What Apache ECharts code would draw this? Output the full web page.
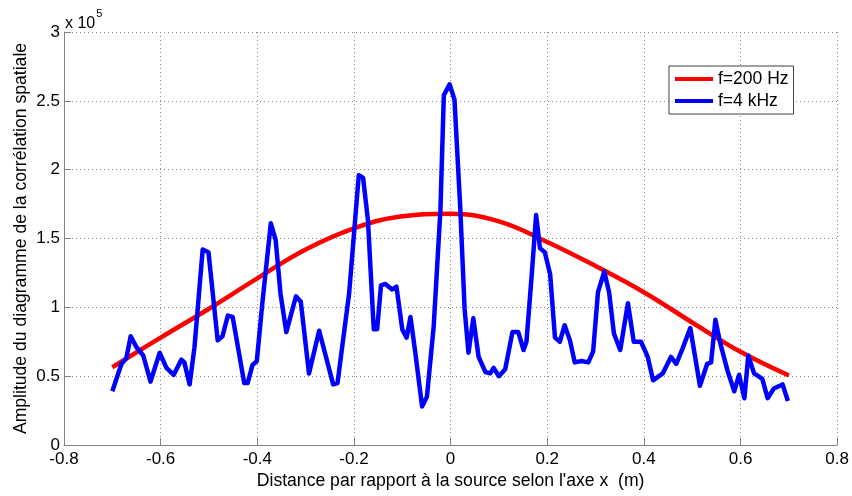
<!DOCTYPE html>
<html>
<head>
<meta charset="utf-8">
<script src="https://cdn.jsdelivr.net/npm/echarts@6/dist/echarts.min.js"></script>
<style>
html,body{margin:0;padding:0;background:#fff;}
#chart{width:852px;height:496px;}
</style>
</head>
<body>
<div id="chart"></div>
<script>
// ---- data ----
const xTicks = [-0.8, -0.6, -0.4, -0.2, 0, 0.2, 0.4, 0.6, 0.8];
const yTicks = [0, 0.5, 1, 1.5, 2, 2.5, 3];
const seriesNames = ['f=200 Hz', 'f=4 kHz'];

const redX = [-0.7, -0.6, -0.5, -0.4, -0.3, -0.2, -0.1, 0, 0.1, 0.2, 0.3, 0.4, 0.5, 0.6, 0.7];
const redY = [0.565, 0.78, 0.99, 1.21, 1.42, 1.574, 1.662, 1.68, 1.625, 1.475, 1.30, 1.11, 0.89, 0.677, 0.505];

const blueX = [-0.700, -0.681, -0.671, -0.662, -0.650, -0.636, -0.621, -0.602, -0.588, -0.573,
  -0.557, -0.551, -0.540, -0.530, -0.513, -0.501, -0.482, -0.472, -0.461, -0.451,
  -0.427, -0.420, -0.410, -0.401, -0.389, -0.372, -0.362, -0.352, -0.340, -0.320,
  -0.310, -0.293, -0.272, -0.243, -0.234, -0.210, -0.190, -0.181, -0.171, -0.159,
  -0.152, -0.144, -0.135, -0.121, -0.112, -0.100, -0.091, -0.083, -0.073, -0.059,
  -0.049, -0.035, -0.021, -0.014, -0.002, 0.008, 0.020, 0.029, 0.037, 0.047,
  0.058, 0.072, 0.082, 0.089, 0.100, 0.113, 0.128, 0.140, 0.151, 0.157,
  0.168, 0.177, 0.185, 0.195, 0.206, 0.216, 0.226, 0.236, 0.247, 0.257,
  0.271, 0.285, 0.295, 0.305, 0.318, 0.328, 0.338, 0.351, 0.367, 0.379,
  0.394, 0.408, 0.419, 0.439, 0.456, 0.467, 0.480, 0.496, 0.516, 0.531,
  0.539, 0.548, 0.558, 0.573, 0.587, 0.597, 0.608, 0.616, 0.628, 0.645,
  0.656, 0.669, 0.687, 0.698];
const blueY = [0.39, 0.59, 0.63, 0.79, 0.71, 0.65, 0.46, 0.67, 0.56, 0.51,
  0.62, 0.60, 0.44, 0.71, 1.42, 1.40, 0.76, 0.79, 0.94, 0.93,
  0.45, 0.45, 0.58, 0.61, 1.05, 1.61, 1.49, 1.10, 0.82, 1.08,
  1.04, 0.52, 0.83, 0.44, 0.45, 1.10, 1.96, 1.94, 1.63, 0.84,
  0.84, 1.16, 1.17, 1.13, 1.15, 0.84, 0.78, 0.93, 0.67, 0.28,
  0.35, 0.86, 1.71, 2.54, 2.62, 2.51, 1.72, 0.99, 0.67, 0.92,
  0.64, 0.53, 0.52, 0.56, 0.50, 0.55, 0.82, 0.82, 0.69, 0.75,
  1.24, 1.67, 1.43, 1.40, 1.24, 0.78, 0.75, 0.87, 0.76, 0.60,
  0.61, 0.60, 0.68, 1.11, 1.26, 1.11, 0.81, 0.69, 1.03, 0.75,
  0.75, 0.64, 0.47, 0.52, 0.64, 0.59, 0.70, 0.85, 0.43, 0.59,
  0.60, 0.91, 0.74, 0.54, 0.39, 0.51, 0.34, 0.65, 0.52, 0.48,
  0.34, 0.41, 0.44, 0.32];

const xAxisTitle = "Distance par rapport à la source selon l'axe x  (m)";
const yAxisTitle = "Amplitude du diagramme de la corrélation spatiale";

// ---- chart ----
const zip = (xs, ys) => xs.map((x, i) => [x, ys[i]]);
const fmt = v => String(Math.round(v * 10) / 10);
const FONT = '"Liberation Sans", Arial, Helvetica, sans-serif';
const chart = echarts.init(document.getElementById('chart'), null, {renderer: 'canvas'});

const axisCommon = {
  axisLine: {show: true, onZero: false, lineStyle: {color: '#808080', width: 1}},
  axisTick: {show: true, inside: true, length: 7, lineStyle: {color: '#808080'}},
  splitLine: {show: true, lineStyle: {color: '#8a8a8a', type: [1, 3], width: 1}},
  nameTextStyle: {color: '#000', fontFamily: FONT, fontSize: 17.6},
  nameMoveOverlap: false
};

chart.setOption({
  animation: false,
  backgroundColor: '#fff',
  grid: {left: 64, right: 13, top: 32, bottom: 51, containLabel: false},
  xAxis: Object.assign({}, axisCommon, {
    type: 'value',
    min: xTicks[0], max: xTicks[xTicks.length - 1],
    interval: 0.2,
    axisLabel: {color: '#000', fontFamily: FONT, fontSize: 17, margin: 6,
      showMinLabel: true, showMaxLabel: true, formatter: fmt},
    name: xAxisTitle, nameLocation: 'middle', nameGap: 27
  }),
  yAxis: Object.assign({}, axisCommon, {
    type: 'value',
    min: yTicks[0], max: yTicks[yTicks.length - 1],
    interval: 0.5,
    axisLabel: {color: '#000', fontFamily: FONT, fontSize: 17, margin: 4, formatter: fmt},
    name: yAxisTitle, nameLocation: 'middle', nameGap: 34, nameRotate: 90
  }),
  legend: {
    orient: 'vertical',
    left: 669, top: 66,
    padding: [4, 5, 4, 6],
    itemGap: 4,
    itemWidth: 38, itemHeight: 4,
    icon: 'rect',
    backgroundColor: '#fff',
    borderColor: '#404040', borderWidth: 1, borderRadius: 0,
    textStyle: {color: '#000', fontFamily: FONT, fontSize: 17.5, lineHeight: 18},
    data: seriesNames
  },
  graphic: [{
    type: 'text', left: 65, top: 8,
    style: {
      text: '{a|x 10}{b|5}',
      rich: {
        a: {fontFamily: FONT, fontSize: 16, fill: '#000', padding: [8, 0, 0, 0]},
        b: {fontFamily: FONT, fontSize: 11, fill: '#000', verticalAlign: 'top', padding: [0, 0, 10, 1]}
      }
    }
  }],
  series: [
    {
      name: seriesNames[0], type: 'line', data: zip(redX, redY),
      smooth: 0.4, symbol: 'none', z: 2,
      lineStyle: {color: '#ff0000', width: 4.5}, itemStyle: {color: '#ff0000'}
    },
    {
      name: seriesNames[1], type: 'line', data: zip(blueX, blueY),
      smooth: false, symbol: 'none', z: 3,
      lineStyle: {color: '#0000ff', width: 4.5, join: 'round'}, itemStyle: {color: '#0000ff'}
    }
  ]
});
</script>
</body>
</html>
